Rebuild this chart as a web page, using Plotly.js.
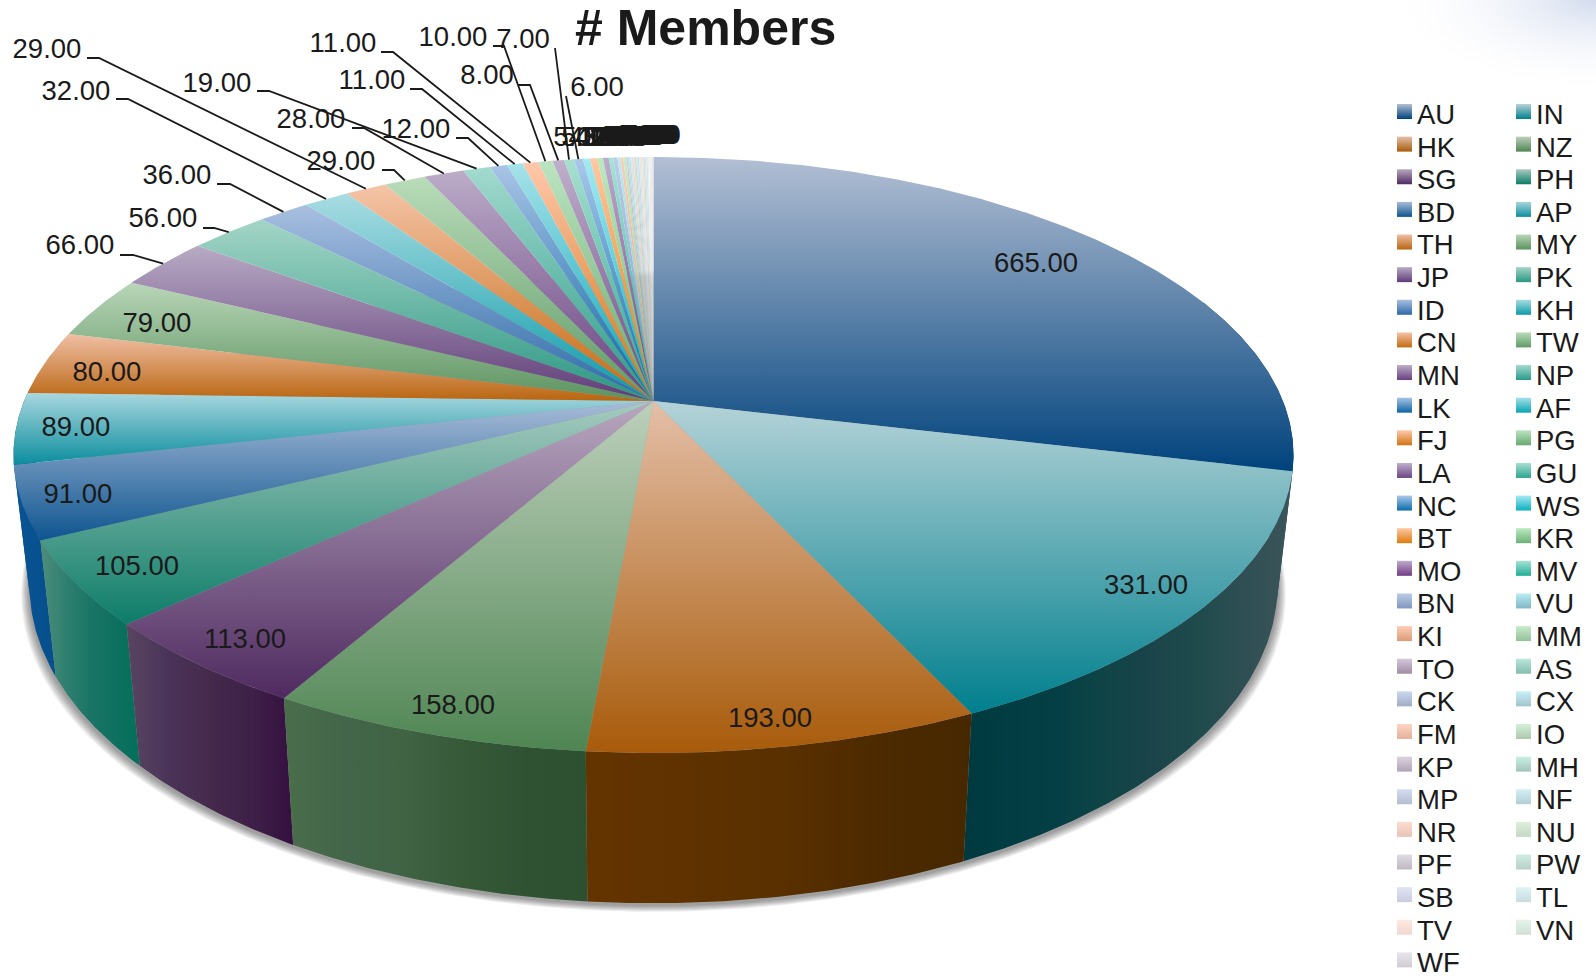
<!DOCTYPE html>
<html><head><meta charset="utf-8">
<script src="https://cdn.plot.ly/plotly-3.0.1.min.js"></script>
<style>html,body{margin:0;padding:0;background:#fff}#chart{width:1596px;height:978px}</style>
</head><body><div id="chart"></div>
<script>
// ---------- data ----------
const categories = ["AU","IN","HK","NZ","SG","PH","BD","AP","TH","MY","JP","PK","ID","KH","CN","TW","MN","NP","LK","AF","FJ","PG","LA","GU","NC","WS","BT","KR","MO","MV","BN","VU","KI","MM","TO","AS","CK","CX","FM","IO","KP","MH","MP","NF","NR","NU","PF","PW","SB","TL","TV","VN","WF"];
const members = [665,331,193,158,113,105,91,89,80,79,66,56,36,32,29,29,28,19,12,11,11,10,8,7,6,5,5,4,4,3,3,2,2,2,1,1,1,1,1,1,1,1,1,1,1,1,1,1,1,1,1,1,1];
// ---------- palette ----------
const lightColors = ["#b3bfd4","#b5d3d8","#e4bfa8","#bdd0bb","#b8a8c0","#a8cbc0","#a9bcd8","#a9d7de","#f0bfa5","#b9d6b8","#b8aac4","#a4d5c6",
 "#a9bfe0","#a9dce2","#f5c4a8","#b9dcb9","#bcacc8","#a2dace","#a9c4e6","#a6e2ea","#ffc8ac","#bce4c0","#c0b0cc","#a8e0d0",
 "#a9c8ea","#a4eaf2","#ffc8a4","#bceac0","#bcaccc","#a4e4d4","#bccce8","#b8ecf4","#ffccb4","#c8ecc8","#d4c8dc","#b8e8dc",
 "#ccd8f0","#c8f0f8","#ffd4c4","#d4f0d8","#dcd4e0","#c8f0e4","#d4dcf0","#d4f0f4","#ffdcd0","#dcf0dc","#e0dce4","#d0ece4",
 "#e0e4f4","#e0f4f8","#ffe8e0","#e4f4e8","#e8e4ec"];
const darkColors = ["#00427c","#007f8d","#a85b0a","#4f8553","#4f2a60","#0c7c68","#0e5590","#0b8d9e","#b9650f","#5b925f","#5f3c78","#2a9683",
 "#2a6aa8","#0a9aa8","#c46a10","#5f9a68","#684080","#2a9a88","#0a64a4","#08a4b4","#d07414","#68a870","#6c4484","#2ca490",
 "#0c6cac","#0cb0c0","#dc7c0c","#6cb078","#743c84","#20ac98","#8098bc","#80b8c4","#dc9c78","#94c09c","#a08ca4","#84bcac",
 "#a0acc4","#a0c4cc","#e4b09c","#acc8ac","#b0a4b4","#a4c4bc","#b4bcd0","#b4ccd4","#e8c4b8","#c4d8c4","#c0b8c0","#b8d0c8",
 "#c8ccdc","#c8dce0","#f0d8d0","#d0e0d4","#d0ccd4"];
const wallColors = {
 0:["#00386c","#004078"],
 1:["#003a40","#013d42","#043f45","#0f4447","#1a4449","#1f4b4d","#2f4f54","#3c5559"],
 2:["#643400","#5f3200","#5a3000","#4d2a00","#462800"],
 3:["#4a6d4b","#43664a","#3f6343","#365a38","#2f5232","#2d5030"],
 4:["#584561","#4a3358","#452a4c","#3e2048","#35103f"],
 5:["#4e8d7a","#2f8070","#1a7565","#0e7060","#03705a"],
 6:["#0a5494","#054f8c"],
 7:["#0a5494","#054f8c"]
};
// ---------- label placement (value index -> text centre, leader start, elbow) ----------
const insideLabels = [[1036,263],[1146,585],[770,718],[453,705],[245,639],[137,566],[78,494],[76,427],[107,372],[157,323]];
const outerLabels = {
 10:[80,245,120,255,133,255], 11:[163,218,203,228,214,228], 12:[177,175,217,184,230,184], 13:[76,91,116,99,128,99],
 14:[47,49,87,58,99,58], 15:[341,161,382,170,394,170], 16:[311,119,352,128,364,128], 17:[217,83,257,91,269,91],
 18:[416,129,456,138,468,138], 19:[372,80,410,89,422,89], 20:[343,43,381,52,393,52], 21:[453,37,493,46,504,46],
 22:[487,75,518,85,530,85], 23:[523,39,555,48,555,48], 24:[597,87,566,96,566,96]
};
// ---------- geometry of the tilted disc, in page pixels ----------
const W=1596,H=978, cx=653.5, cy=401, a=629.4, b=288.2, k=0.1812, textDrop=2.5;
const total = members.reduce((s,v)=>s+v,0);
const rim = t => { const X=Math.sin(t), Z=-Math.cos(t), w=1-k*Z; return [cx+a*X/w, cy+b*Z/w]; };
const low = p => [cx+0.975*(p[0]-cx), cy+127+1.066*(p[1]-cy)];
const arc = (t0,t1) => { const n=Math.max(2,Math.ceil((t1-t0)/0.008)), r=[]; for(let i=0;i<=n;i++) r.push(rim(t0+(t1-t0)*i/n)); return r; };
const scale = cs => cs.map((c,i)=>[cs.length>1?i/(cs.length-1):0,c]);
const poly = (pts,extra) => Object.assign({type:'scatter',mode:'lines',x:pts.map(p=>p[0]),y:pts.map(p=>p[1]),fill:'toself',line:{width:0},hoverinfo:'skip',showlegend:false},extra);
const GRAD = (l,d) => ({type:'vertical',colorscale:[[0,d],[1,l]]});

const traces=[];
// corner glow
{ const pts=[]; for(let i=0;i<=72;i++){const t=i/72*2*Math.PI; pts.push([W+210*Math.cos(t),95*Math.sin(t)]);}
  traces.push(poly(pts,{fillgradient:{type:'radial',colorscale:[[0,'rgba(196,208,232,0.75)'],[1,'rgba(255,255,255,0)']]}})); }
// wedge angles
let cum=0; const wedges=members.map(v=>{const t0=cum/total*2*Math.PI; cum+=v; return [t0,cum/total*2*Math.PI];});
// shadow
const allLow=arc(0,2*Math.PI).map(low);
for(let i=6;i>=1;i--){
  traces.push(poly(allLow.map(p=>[p[0]+(p[0]-cx)*i*0.0022, p[1]+2+i*1.1]),{fillcolor:'rgba(0,0,0,0.075)'}));
}
// side walls, back to front
Object.keys(wallColors).map(Number).sort((p,q)=>Math.abs((wedges[q][0]+wedges[q][1])/2-Math.PI)-Math.abs((wedges[p][0]+wedges[p][1])/2-Math.PI)).forEach(i=>{
  const t0=Math.max(wedges[i][0],1.2), t1=Math.min(wedges[i][1],5.0);
  const top=arc(t0,t1), bot=top.map(low).reverse();
  traces.push(poly(top.concat(bot,[top[0]]),{fillgradient:{type:'horizontal',colorscale:scale(wallColors[i])}}));
});
// top faces
wedges.forEach((w,i)=>{
  const pts=[[cx,cy]].concat(arc(w[0],w[1]),[[cx,cy]]);
  traces.push(poly(pts,{fillgradient:GRAD(lightColors[i],darkColors[i])}));
});
// leaders
const lx=[],ly=[];
Object.keys(outerLabels).map(Number).forEach(i=>{
  const o=outerLabels[i], e=rim((wedges[i][0]+wedges[i][1])/2);
  lx.push(o[2],o[4],e[0],null); ly.push(o[3],o[5],e[1],null);
});
traces.push({type:'scatter',mode:'lines',x:lx,y:ly,line:{color:'#1a1a1a',width:1.8},hoverinfo:'skip',showlegend:false});
// value labels
const textFont={family:'"Liberation Sans",Arial,sans-serif',size:27.5,color:'#1a1a1a'};
const tx=[],ty=[],tt=[];
const firstSmall=rim((wedges[25][0]+wedges[25][1])/2)[0], lastSmall=rim((wedges[52][0]+wedges[52][1])/2)[0];
members.forEach((v,i)=>{
  let p;
  if(i<insideLabels.length) p=insideLabels[i];
  else if(outerLabels[i]) p=outerLabels[i];
  else { const e=rim((wedges[i][0]+wedges[i][1])/2); p=[580+(e[0]-firstSmall)*74/(lastSmall-firstSmall), 137-(i-25)*0.1]; }
  tx.push(p[0]);ty.push(p[1]+textDrop);tt.push(v.toFixed(2));
});
traces.push({type:'scatter',mode:'text',x:tx,y:ty,text:tt,textposition:'middle center',textfont:textFont,cliponaxis:false,hoverinfo:'skip',showlegend:false});
// legend
const legX=[],legY=[];
categories.forEach((c,i)=>{
  const col=i%2,row=Math.floor(i/2), x0=col?1516:1397, yc=111.5+row*32.63;
  traces.push(poly([[x0,yc-7.5],[x0+15,yc-7.5],[x0+15,yc+7.5],[x0,yc+7.5],[x0,yc-7.5]],{fillgradient:GRAD(lightColors[i],darkColors[i])}));
  legX.push(x0+20);legY.push(yc+5.6);
});
traces.push({type:'scatter',mode:'text',x:legX,y:legY,text:categories,textposition:'middle right',textfont:textFont,cliponaxis:false,hoverinfo:'skip',showlegend:false});

const layout={width:W,height:H,margin:{l:0,r:0,t:0,b:0},paper_bgcolor:'#fff',plot_bgcolor:'rgba(0,0,0,0)',showlegend:false,hovermode:false,
 xaxis:{range:[0,W],visible:false,fixedrange:true},yaxis:{range:[H,0],visible:false,fixedrange:true},
 annotations:[{xref:'x',yref:'y',x:705.5,y:28,text:'<b># Members</b>',showarrow:false,xanchor:'center',yanchor:'middle',font:{family:'"Liberation Sans",Arial,sans-serif',size:50,color:'#1a1a1a'}}]};
Plotly.newPlot('chart',traces,layout,{displayModeBar:false,staticPlot:true});
</script></body></html>
